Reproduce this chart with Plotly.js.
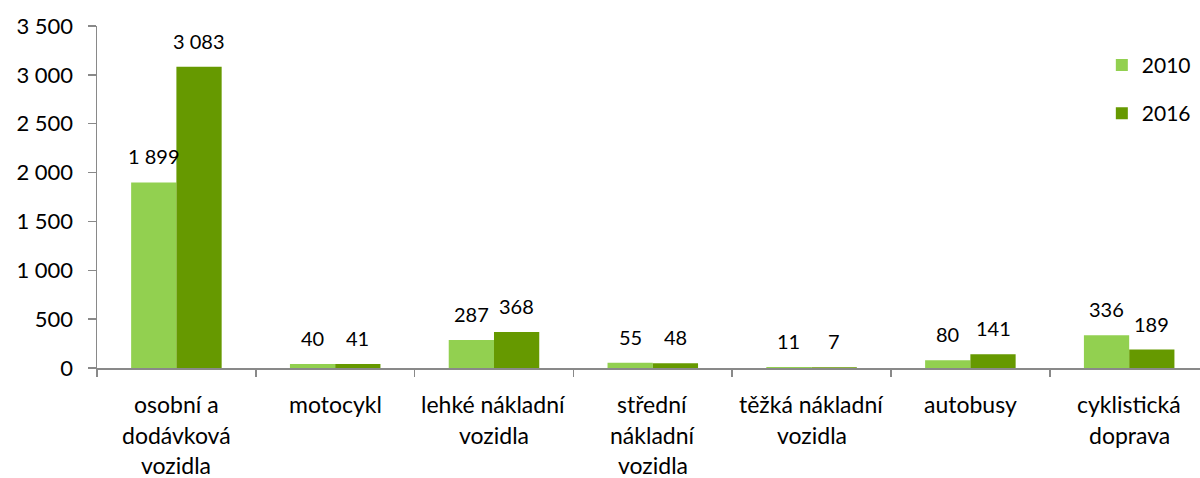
<!DOCTYPE html>
<html>
<head>
<meta charset="utf-8">
<script src="https://cdn.plot.ly/plotly-3.0.1.min.js"></script>
<style>html,body{margin:0;padding:0;background:#fff}#chart{width:1200px;height:478px}</style>
</head>
<body>
<div id="chart"></div>
<script>
const categories = [
  "osobní a\ndodávková\nvozidla",
  "motocykl",
  "lehké nákladní\nvozidla",
  "střední\nnákladní\nvozidla",
  "těžká nákladní\nvozidla",
  "autobusy",
  "cyklistická\ndoprava"
];
const values2010 = [1899, 40, 287, 55, 11, 80, 336];
const values2016 = [3083, 41, 368, 48, 7, 141, 189];
const seriesNames = ["2010", "2016"];
const yTickVals = [0, 500, 1000, 1500, 2000, 2500, 3000, 3500];
const yTickText = ["0", "500", "1 000", "1 500", "2 000", "2 500", "3 000", "3 500"];

const FONT = "Lato, 'Open Sans', sans-serif";
const colors = ["#92D050", "#669900"];
const fmt = v => String(v).replace(/\B(?=(\d{3})+(?!\d))/g, " ");
const catKeys = categories.map((c, i) => "c" + i);

const traces = [values2010, values2016].map((vals, s) => ({
  type: "bar",
  name: seriesNames[s],
  x: catKeys,
  y: vals,
  marker: {color: colors[s], line: {color: colors[s], width: 0}},
  legendgroup: "g" + s,
  hoverinfo: "none"
}));

const annotations = [];
// data labels
const halfBar = 22.7;
[values2010, values2016].forEach((vals, s) => {
  vals.forEach((v, i) => {
    annotations.push({
      x: catKeys[i], y: v, xref: "x", yref: "y",
      text: fmt(v), showarrow: false,
      xanchor: "center", yanchor: "bottom",
      xshift: s === 0 ? -halfBar : halfBar, yshift: 12,
      font: {family: FONT, size: 20, color: "#000"}
    });
  });
});
// category labels (one annotation per line for Excel-like line spacing)
categories.forEach((c, i) => {
  c.split("\n").forEach((line, j) => {
    annotations.push({
      x: catKeys[i], y: 0, xref: "x", yref: "y",
      text: line, showarrow: false,
      xanchor: "center", yanchor: "middle",
      yshift: -36 - j * 30.5,
      font: {family: FONT, size: 23, color: "#000"}
    });
  });
});

const layout = {
  width: 1200, height: 478,
  margin: {l: 97, r: 0, t: 26, b: 110, pad: 0, autoexpand: false},
  paper_bgcolor: "#fff", plot_bgcolor: "#fff",
  font: {family: FONT, size: 20, color: "#000"},
  barmode: "group",
  bargap: 0.43, bargroupgap: 0,
  showlegend: true,
  legend: {
    x: 0.911, y: 0.945, xanchor: "left", yanchor: "top",
    font: {family: FONT, size: 21, color: "#000"},
    tracegroupgap: 18, bgcolor: "rgba(0,0,0,0)",
    itemwidth: 30
  },
  xaxis: {
    type: "category",
    range: [-0.5, 6.446],
    showticklabels: false,
    tickson: "boundaries",
    ticks: "outside", ticklen: 7, tickwidth: 1.5, tickcolor: "#898989",
    showline: true, linecolor: "#898989", linewidth: 1.5,
    showgrid: false, zeroline: false, fixedrange: true
  },
  yaxis: {
    range: [0, 3500],
    tickvals: yTickVals, ticktext: yTickText,
    ticks: "outside", ticklen: 8, tickwidth: 1.5, tickcolor: "#898989",
    ticklabelstandoff: 10,
    tickfont: {family: FONT, size: 22, color: "#000"},
    showline: true, linecolor: "#898989", linewidth: 1.5,
    showgrid: false, zeroline: false, fixedrange: true
  },
  annotations: annotations
};

Plotly.newPlot("chart", traces, layout, {displayModeBar: false, staticPlot: true});
</script>
</body>
</html>
